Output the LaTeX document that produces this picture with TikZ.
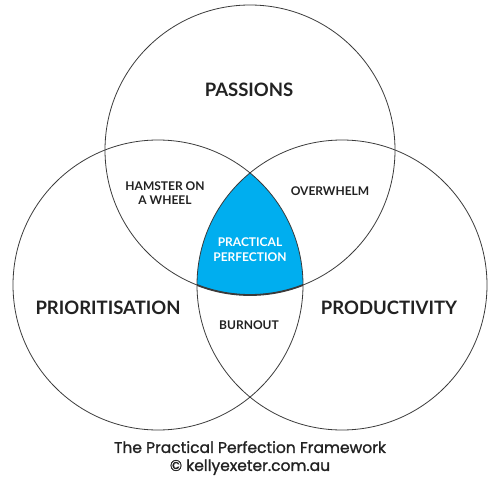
\documentclass[tikz,border=0pt]{standalone}
\usepackage{fontspec}
\setmainfont{Lato}
\newfontfamily\creditfont[FakeBold=1.2]{Poppins}
\usetikzlibrary{positioning}
\definecolor{ppblue}{HTML}{00AEEF}
\definecolor{ink}{HTML}{222222}
\definecolor{rim}{HTML}{3A3A3A}

\begin{document}
\begin{tikzpicture}[x=1pt,y=1pt]
    \tikzset{ring/.style={draw=rim,line width=0.8pt}, zone/.style={font=\fontsize{18.5}{20}\selectfont\bfseries,text=ink}, overlap/.style={font=\fontsize{12}{14}\selectfont\bfseries,text=ink,align=center}, credit/.style={font=\creditfont\fontsize{15.5}{18}\selectfont,text=ink,align=center}}
    \useasboundingbox (0,0) rectangle (500,480);
    \coordinate (pc) at (250,330); \coordinate (lc) at (158,195); \coordinate (rc) at (342,195);
    % centre region
    \begin{scope}
      \clip (pc) circle (145); \clip (lc) circle (145);
      \fill[ppblue] (rc) circle (145);
    \end{scope}
    \draw[ring] (pc) circle (145); \draw[ring] (lc) circle (145); \draw[ring] (rc) circle (145);
    \begin{scope}
      \clip (lc) circle (145); \clip (rc) circle (145);
      \draw[draw=rim,line width=1.8pt] (pc) circle (145);
    \end{scope}
    \node[zone] (pas) at (249,390) {PASSIONS};
    \node[zone] (pri) at (108,172) {PRIORITISATION};
    \node[zone] (pro) at (389,172) {PRODUCTIVITY};
    \node[overlap] (ham) at (165,287) {HAMSTER ON\\A WHEEL};
    \node[overlap] (ovr) at (330,289) {OVERWHELM};
    \node[overlap,text=white,font=\fontsize{12}{15}\selectfont\bfseries] (pp) at (250,230.5) {PRACTICAL\\PERFECTION};
    \node[overlap] (bur) at (249,155) {BURNOUT};
    \node[credit] (ttl) at (250,22) {The Practical Perfection Framework\\© kellyexeter.com.au};
\end{tikzpicture}
\end{document}
